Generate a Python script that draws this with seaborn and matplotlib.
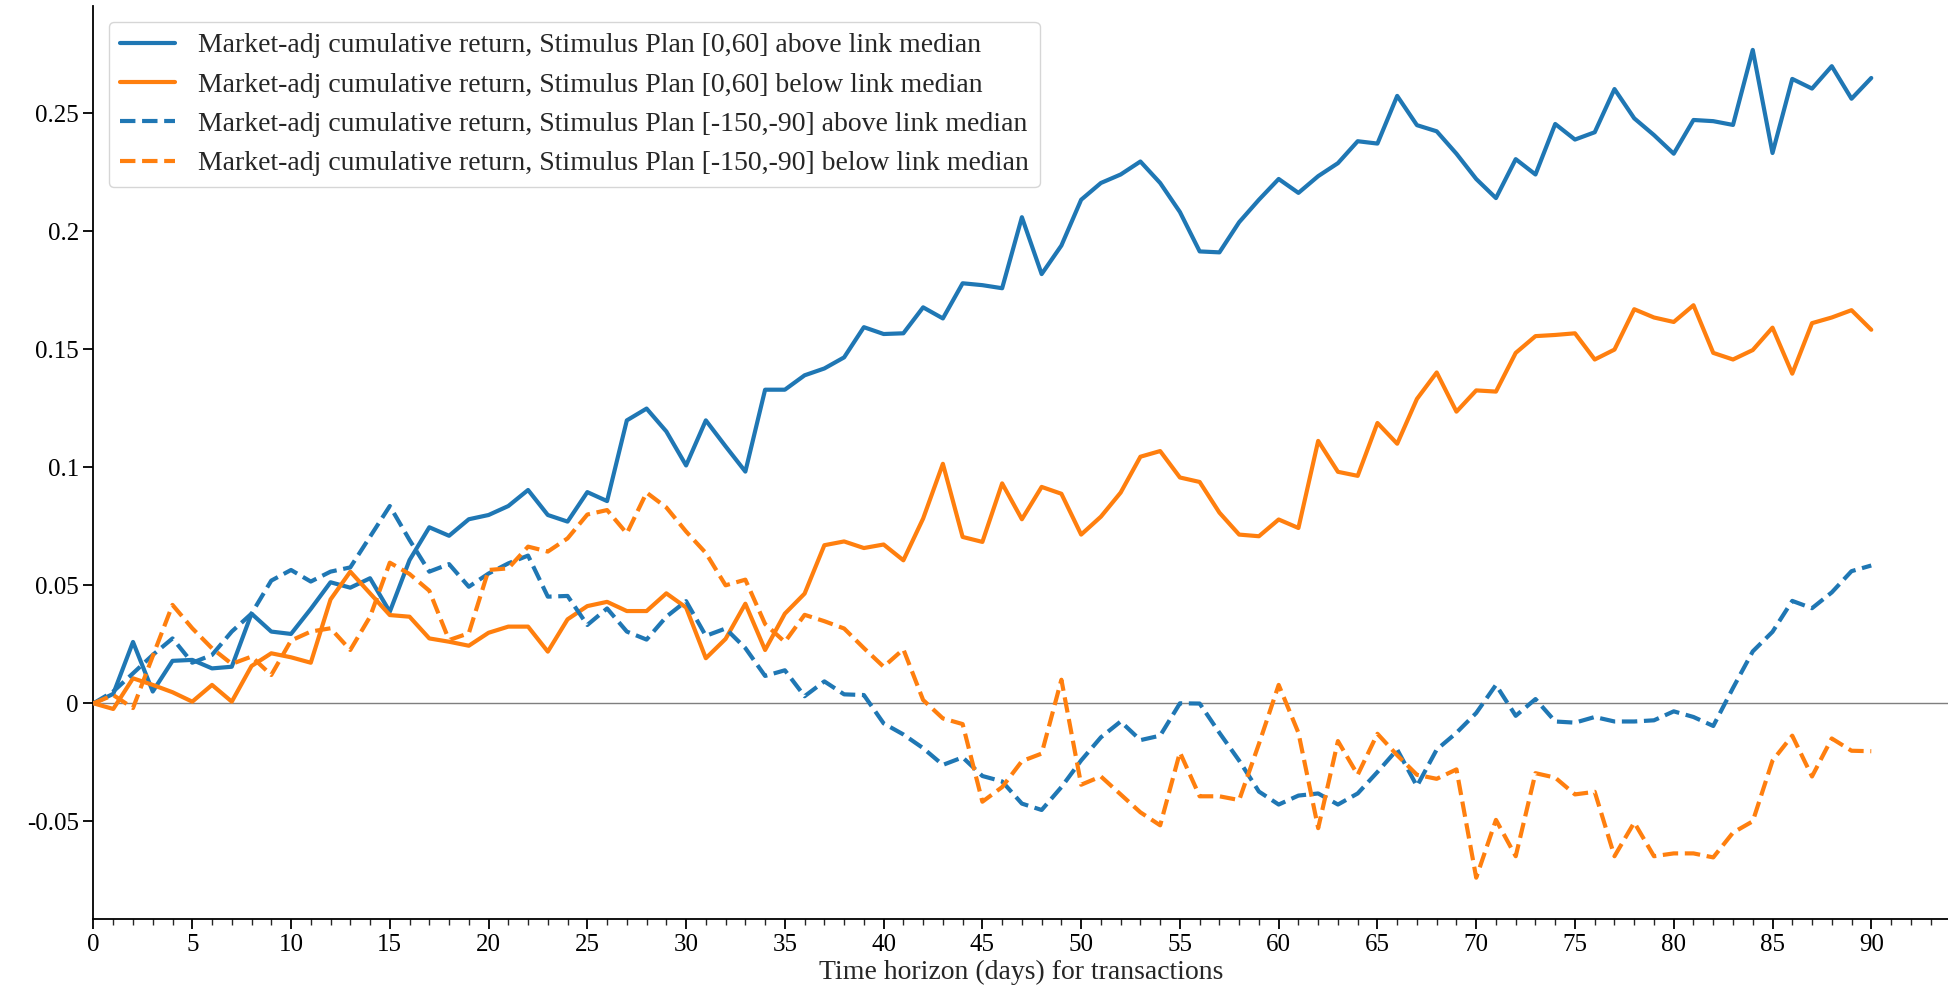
import numpy as np
import pandas as pd
import matplotlib
matplotlib.use("Agg")
import matplotlib.pyplot as plt
from matplotlib.ticker import MultipleLocator, FuncFormatter
import seaborn as sns

# Horizon in days after the event
days = list(range(0, 91))

# Market-adjusted cumulative returns, Stimulus Plan window [0,60]
above_0_60 = [
    0, 0.004, 0.026, 0.005, 0.018, 0.0184, 0.0148, 0.0155, 0.038, 0.0304,
    0.0294, 0.040, 0.0513, 0.049, 0.053, 0.0388, 0.0607, 0.0746, 0.071, 0.078,
    0.0798, 0.0836, 0.0904, 0.0798, 0.077, 0.0895, 0.0857, 0.1199, 0.1249, 0.1152,
    0.1008, 0.1199, 0.1089, 0.0982, 0.1329, 0.1329, 0.139, 0.1419, 0.1466, 0.1594,
    0.1565, 0.1568, 0.1678, 0.1631, 0.178, 0.1772, 0.1759, 0.206, 0.1819, 0.194,
    0.2134, 0.2205, 0.2241, 0.2296, 0.2205, 0.2082, 0.1915, 0.1911, 0.2039, 0.2134,
    0.2222, 0.2163, 0.2234, 0.2289, 0.2382, 0.2372, 0.2574, 0.245, 0.2424, 0.2329,
    0.2222, 0.2141, 0.2306, 0.2241, 0.2455, 0.2389, 0.242, 0.2603, 0.2479, 0.2408,
    0.2329, 0.2472, 0.2467, 0.2451, 0.2769, 0.2332, 0.2646, 0.2605, 0.27, 0.2562,
    0.265,
]
below_0_60 = [
    0, -0.0024, 0.0106, 0.0078, 0.0047, 0.0007, 0.0078, 0.0007, 0.0158, 0.0212,
    0.0195, 0.0172, 0.044, 0.0558, 0.0466, 0.0374, 0.0367, 0.0275, 0.0261, 0.0244,
    0.0299, 0.0325, 0.0325, 0.0219, 0.0356, 0.0412, 0.043, 0.0391, 0.0391, 0.0466,
    0.0406, 0.0191, 0.0273, 0.0422, 0.0226, 0.038, 0.0465, 0.067, 0.0686, 0.0658,
    0.0673, 0.0606, 0.0783, 0.1015, 0.0705, 0.0684, 0.0932, 0.078, 0.0917, 0.0888,
    0.0715, 0.0791, 0.0893, 0.1045, 0.1069, 0.0957, 0.0938, 0.0808, 0.0715, 0.0708,
    0.0779, 0.0743, 0.1112, 0.0981, 0.0964, 0.1188, 0.11, 0.129, 0.1402, 0.1236,
    0.1326, 0.1321, 0.1485, 0.1556, 0.1561, 0.1568, 0.1457, 0.1499, 0.167, 0.1635,
    0.1616, 0.1687, 0.1485, 0.1457, 0.1497, 0.1592, 0.1397, 0.1611, 0.1635, 0.1666,
    0.1583,
]

# Market-adjusted cumulative returns, Stimulus Plan window [-150,-90]
above_150_90 = [
    0, 0.005, 0.0127, 0.0205, 0.0275, 0.0172, 0.0205, 0.0304, 0.038, 0.052,
    0.0565, 0.0516, 0.0558, 0.0576, 0.0706, 0.0836, 0.0692, 0.0558, 0.059, 0.0494,
    0.055, 0.0593, 0.0626, 0.0452, 0.0455, 0.0332, 0.0402, 0.0304, 0.027, 0.0367,
    0.0433, 0.0286, 0.0317, 0.0234, 0.0116, 0.014, 0.003, 0.0093, 0.0038, 0.0035,
    -0.0085, -0.0132, -0.019, -0.0261, -0.0229, -0.0308, -0.0331, -0.0425, -0.0452, -0.0355,
    -0.0242, -0.0144, -0.0077, -0.0156, -0.0137, 0.0, -0.0001, -0.0125, -0.0243, -0.0374,
    -0.0429, -0.0391, -0.0382, -0.0429, -0.0382, -0.0291, -0.0196, -0.0351, -0.0196, -0.0125,
    -0.0041, 0.0078, -0.0053, 0.0018, -0.0077, -0.0082, -0.0058, -0.0077, -0.0077, -0.0072,
    -0.0034, -0.0058, -0.0096, 0.0065, 0.022, 0.0303, 0.0434, 0.0403, 0.047, 0.056,
    0.0584,
]
below_150_90 = [
    0, 0.0035, -0.002, 0.02, 0.0417, 0.0318, 0.0233, 0.0167, 0.0198, 0.012,
    0.0266, 0.0304, 0.0318, 0.0226, 0.0367, 0.0596, 0.0548, 0.0477, 0.0268, 0.0297,
    0.0565, 0.0572, 0.0664, 0.0643, 0.0699, 0.080, 0.0819, 0.072, 0.0893, 0.083,
    0.0728, 0.0637, 0.05, 0.0524, 0.0336, 0.026, 0.0375, 0.0348, 0.0317, 0.0234,
    0.0155, 0.0229, 0.0014, -0.0064, -0.0088, -0.0417, -0.0355, -0.0245, -0.0213, 0.01,
    -0.0345, -0.031, -0.0386, -0.0462, -0.0517, -0.0208, -0.0394, -0.0394, -0.041, -0.0172,
    0.0078, -0.0125, -0.0529, -0.016, -0.0303, -0.0129, -0.022, -0.0303, -0.032, -0.028,
    -0.0739, -0.0494, -0.0648, -0.0296, -0.0315, -0.0386, -0.0375, -0.0648, -0.0505, -0.0648,
    -0.0636, -0.0636, -0.0653, -0.0548, -0.05, -0.0243, -0.0137, -0.031, -0.0149, -0.0201,
    -0.0203,
]

labels = [
    "Market-adj cumulative return, Stimulus Plan [0,60] above link median",
    "Market-adj cumulative return, Stimulus Plan [0,60] below link median",
    "Market-adj cumulative return, Stimulus Plan [-150,-90] above link median",
    "Market-adj cumulative return, Stimulus Plan [-150,-90] below link median",
]
series = [above_0_60, below_0_60, above_150_90, below_150_90]
colors = ["#1f77b4", "#ff7f0e", "#1f77b4", "#ff7f0e"]
styles = ["-", "-", "--", "--"]

sns.set_style("ticks")
plt.rcParams["font.family"] = ["Liberation Serif", "DejaVu Serif"]
plt.rcParams["font.size"] = 18

W, H = 1949, 999
fig = plt.figure(figsize=(W / 100, H / 100), dpi=100)
left_px, bottom_px, top_px = 93.5, 919, 6
ax = fig.add_axes([left_px / W, 1 - bottom_px / H, 1 - left_px / W, (bottom_px - top_px) / H])

ax.axhline(0, color="#7f7f7f", lw=1.0, zorder=1)

for vals, lab, col, ls in zip(series, labels, colors, styles):
    df = pd.DataFrame({"day": days, "ret": vals})
    sns.lineplot(data=df, x="day", y="ret", ax=ax, color=col, linestyle=ls,
                 linewidth=3.0, label=lab, zorder=3)

ax.set_xlim(0, (W - left_px) / 19.753)
ax.set_ylim(-0.0914, 0.2955)
ax.set_xticks(list(range(0, 91, 5)))
ax.xaxis.set_minor_locator(MultipleLocator(1))
ax.yaxis.set_major_locator(MultipleLocator(0.05))
ax.yaxis.set_major_formatter(FuncFormatter(lambda v, p: "%g" % round(v, 4)))

ax.tick_params(axis="both", which="major", length=7, width=1.3, labelsize=18, direction="out", colors="black")
ax.tick_params(axis="x", which="minor", length=4, width=1.0, direction="out")
for s in ["left", "bottom"]:
    ax.spines[s].set_linewidth(1.3)
    ax.spines[s].set_color("black")
sns.despine(ax=ax)

ax.set_xlabel("Time horizon (days) for transactions", fontsize=20, labelpad=3)
ax.set_ylabel("")

leg = ax.legend(loc="upper left", bbox_to_anchor=(108.7 / W, 1 - 21.7 / H),
                bbox_transform=fig.transFigure, borderaxespad=0, fontsize=20,
                handlelength=2.0, frameon=True, fancybox=True, framealpha=0.8,
                edgecolor="#cccccc")

fig.savefig("out.png", dpi=100)
